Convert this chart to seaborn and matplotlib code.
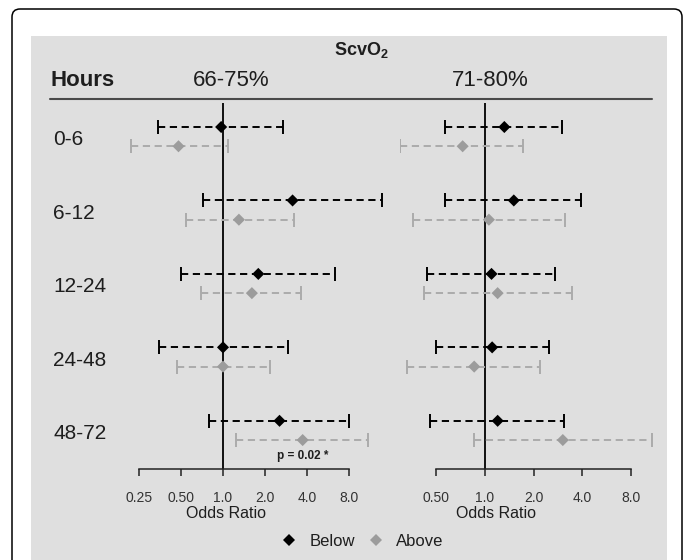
import numpy as np
import pandas as pd
import matplotlib
matplotlib.use("Agg")
import matplotlib.pyplot as plt
import seaborn as sns
from matplotlib.patches import FancyBboxPatch, Rectangle
from matplotlib.lines import Line2D
from matplotlib.ticker import NullLocator, FixedLocator, FixedFormatter
from matplotlib.transforms import IdentityTransform, blended_transform_factory

# ---------------- data ----------------
hours = ["0-6", "6-12", "12-24", "24-48", "48-72"]
groups = ["Below", "Above"]
panels = ["66-75%", "71-80%"]

# 66-75% panel
l_below_or = [0.97, 3.15, 1.79, 1.00, 2.54]
l_below_lo = [0.34, 0.72, 0.50, 0.35, 0.80]
l_below_hi = [2.71, 13.7, 6.33, 2.92, 8.00]
l_above_or = [0.48, 1.30, 1.61, 1.00, 3.72]
l_above_lo = [0.22, 0.54, 0.70, 0.47, 1.24]
l_above_hi = [1.08, 3.20, 3.64, 2.16, 10.9]

# 71-80% panel
r_below_or = [1.32, 1.51, 1.10, 1.11, 1.20]
r_below_lo = [0.57, 0.57, 0.44, 0.50, 0.46]
r_below_hi = [2.99, 3.90, 2.73, 2.50, 3.10]
r_above_or = [0.73, 1.06, 1.20, 0.86, 3.03]
r_above_lo = [0.30, 0.36, 0.42, 0.33, 0.86]
r_above_hi = [1.71, 3.12, 3.43, 2.19, 10.8]

l_ticks = [0.25, 0.5, 1.0, 2.0, 4.0, 8.0]
l_ticklabels = ["0.25", "0.50", "1.0", "2.0", "4.0", "8.0"]
r_ticks = [0.5, 1.0, 2.0, 4.0, 8.0]
r_ticklabels = ["0.50", "1.0", "2.0", "4.0", "8.0"]

p_label = "p = 0.02 *"
x_label = "Odds Ratio"

# ---------------- style ----------------
sns.set_theme(style="white")
plt.rcParams["font.family"] = ["Liberation Sans", "DejaVu Sans"]
plt.rcParams["mathtext.fontset"] = "custom"
plt.rcParams["mathtext.rm"] = "Liberation Sans"
plt.rcParams["mathtext.bf"] = "Liberation Sans:bold"
plt.rcParams["lines.scale_dashes"] = False

W, H = 683, 560
fig = plt.figure(figsize=(W / 100, H / 100), dpi=100)
fig.patch.set_facecolor("white")


def fx(px):
    return px / W


def fy(py):
    return 1 - py / H


TXT = "#1e1e1e"
BLACK = "#000000"
GREY_M = "#9c9c9c"
GREY_L = "#ababab"

# gray panel + rounded outer frame
fig.add_artist(Rectangle((fx(31), 0), fx(666.7) - fx(31), fy(36),
                         transform=fig.transFigure, facecolor="#dfdfdf",
                         edgecolor="none", zorder=-2))
fig.add_artist(FancyBboxPatch((12, -40), 670, H - 9 + 40,
                              boxstyle="round,pad=0,rounding_size=8",
                              transform=IdentityTransform(), fill=False,
                              edgecolor="black", linewidth=1.1, zorder=-1))

# header
fig.text(fx(361.4), fy(55.3), r"$\mathbf{ScvO_2}$", ha="center", va="baseline",
         fontsize=13, color=TXT)
fig.text(fx(50), fy(86), "Hours", ha="left", va="baseline", fontsize=16,
         fontweight="bold", color=TXT)
fig.text(fx(231), fy(86.5), panels[0], ha="center", va="baseline", fontsize=16, color=TXT)
fig.text(fx(490), fy(86.5), panels[1], ha="center", va="baseline", fontsize=16, color=TXT)
fig.add_artist(Line2D([fx(50), fx(651.7)], [fy(98.7), fy(98.7)],
                      transform=fig.transFigure, color="#4a4a4a", linewidth=1.5))

# row geometry (pixels)
ROW0, STEP = 136.7, 73.45
AX_TOP, AX_BOT = 100, 480


def row(px):
    return (px - ROW0) / STEP


OFF_B, OFF_A = -0.132, 0.130


def panel(px_left, px_right, one_px, per_dbl, below, above, ticks, ticklabels):
    ax = fig.add_axes([fx(px_left), fy(AX_BOT), (px_right - px_left) / W,
                       (AX_BOT - AX_TOP) / H])
    ax.set_facecolor("none")
    ax.set_xscale("log", base=2)

    rows = np.arange(len(hours))
    recs = []
    for g, (orv, lo, hi), off in [("Below", below, OFF_B), ("Above", above, OFF_A)]:
        for i in rows:
            recs.append(dict(group=g, hours=hours[i], OR=orv[i], lo=lo[i],
                             hi=hi[i], y=i + off))
    df = pd.DataFrame(recs)

    for g, c in [("Below", BLACK), ("Above", GREY_L)]:
        d = df[df.group == g]
        eb = ax.errorbar(d.OR, d.y, xerr=[d.OR - d.lo, d.hi - d.OR], fmt="none",
                         ecolor=c, elinewidth=1.4, capsize=5, capthick=1.4,
                         zorder=2)
        for lc in eb.lines[2]:
            lc.set_linestyle((0, (5.2, 3.3)))

    sns.scatterplot(data=df, x="OR", y="y", hue="group",
                    palette={"Below": BLACK, "Above": GREY_M}, marker="D",
                    s=38, linewidth=0, legend=False, ax=ax, zorder=3)

    y_axis = row(469.3)
    ax.vlines(1.0, row(103), y_axis, color="black", linewidth=1.3, zorder=1)

    ax.set_xlim(2 ** ((px_left - one_px) / per_dbl), 2 ** ((px_right - one_px) / per_dbl))
    ax.set_ylim(row(AX_BOT), row(AX_TOP))
    ax.set_xlabel("")
    ax.set_ylabel("")

    for s in ["left", "right", "top"]:
        ax.spines[s].set_visible(False)
    ax.spines["bottom"].set_position(("data", y_axis))
    ax.spines["bottom"].set_bounds(ticks[0], ticks[-1])
    ax.spines["bottom"].set_color("#222222")
    ax.spines["bottom"].set_linewidth(1.1)
    ax.xaxis.set_major_locator(FixedLocator(ticks))
    ax.xaxis.set_major_formatter(FixedFormatter(ticklabels))
    ax.xaxis.set_minor_locator(NullLocator())
    ax.tick_params(axis="x", bottom=True, labelbottom=True, direction="out",
                   length=5, width=1.1, color="#222222", pad=10.8,
                   labelsize=10, labelcolor="#333333")
    ax.tick_params(axis="y", left=False, labelleft=False)
    return ax, df


axL, dfL = panel(115, 396, 223.0, 42.03,
                 (l_below_or, l_below_lo, l_below_hi),
                 (l_above_or, l_above_lo, l_above_hi), l_ticks, l_ticklabels)
axR, dfR = panel(400, 668, 484.8, 48.78,
                 (r_below_or, r_below_lo, r_below_hi),
                 (r_above_or, r_above_lo, r_above_hi), r_ticks, r_ticklabels)

# row labels
trans = blended_transform_factory(fig.transFigure, axL.transData)
for i, h in enumerate(hours):
    axL.text(fx(53), i + 0.015, h, transform=trans, ha="left",
             va="center_baseline", fontsize=15, color=TXT, clip_on=False)

# p-value annotation under the 48-72 "Above" estimate
axL.text(l_above_or[4], 4 + OFF_A + 0.213, p_label, ha="center", va="center",
         fontsize=8.5, fontweight="bold", color=TXT)

# x labels
fig.text(fx(225.8), fy(518.3), x_label, ha="center", va="baseline", fontsize=11.5, color=TXT)
fig.text(fx(496), fy(518.3), x_label, ha="center", va="baseline", fontsize=11.5, color=TXT)

# legend
handles = [Line2D([], [], marker="D", color=BLACK, linestyle="none",
                  markersize=6, markeredgewidth=0),
           Line2D([], [], marker="D", color=GREY_M, linestyle="none",
                  markersize=6, markeredgewidth=0)]
leg = fig.legend(handles, groups, loc="center",
                 bbox_to_anchor=(fx(362.3), fy(541.5)),
                 bbox_transform=fig.transFigure, ncol=2, frameon=False,
                 fontsize=12, handlelength=1.0, handletextpad=0.74,
                 columnspacing=0.72, borderpad=0, borderaxespad=0)
for t in leg.get_texts():
    t.set_color(TXT)

fig.savefig("out.png", dpi=100)
